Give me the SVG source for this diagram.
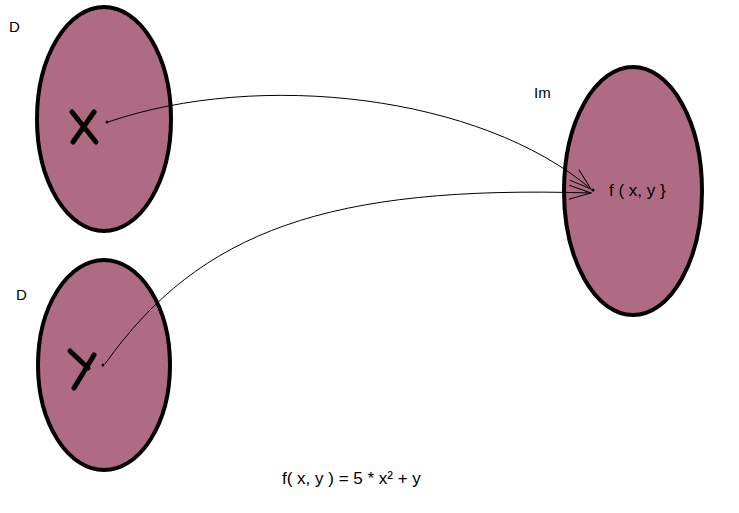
<svg xmlns="http://www.w3.org/2000/svg" width="739" height="513" viewBox="0 0 739 513">
<style>
.set{fill:#b06b84;stroke:#000;stroke-width:4}
.t{font-family:"Liberation Sans",Arial,sans-serif;font-size:15px;fill:#000}
.stroke{stroke:#000;stroke-width:5;stroke-linecap:round;fill:none}
.c{fill:none;stroke:#000;stroke-width:1}
</style>
<defs>
<marker id="ah" markerWidth="24" markerHeight="16" refX="22" refY="8" orient="auto" markerUnits="userSpaceOnUse">
<path d="M0,1 L22,8 L0,15" fill="none" stroke="#000" stroke-width="1"/>
</marker>
</defs>
<rect width="739" height="513" fill="#fff"/>
<g id="setD1">
<ellipse class="set" cx="104" cy="119" rx="67" ry="112"/>
<path class="stroke" d="M72,112 L96,142 M94,112 L73,142"/>
<circle cx="107" cy="122" r="1.5"/>
<text class="t" x="9" y="32">D</text>
</g>
<g id="setD2">
<ellipse class="set" cx="104" cy="365" rx="66" ry="105"/>
<path class="stroke" d="M70,351 L88,368 M94,355 L74,388"/>
<circle cx="103" cy="365" r="1.5"/>
<text class="t" x="16" y="300">D</text>
</g>
<g id="setIm">
<ellipse class="set" cx="633" cy="191" rx="69" ry="124"/>
<circle cx="593" cy="190" r="1.5"/>
<text class="t" x="609" y="196" style="font-size:17px">f ( x, y }</text>
<text class="t" x="534" y="98">Im</text>
</g>
<g id="connectors">
<path class="c" d="M108,122 C260,70 480,95 591,189" marker-end="url(#ah)"/>
<path class="c" d="M105,364 C200,230 330,185 591,193" marker-end="url(#ah)"/>
</g>
<text class="t" x="282" y="484" style="font-size:17px">f( x, y ) = 5 * x² + y</text>
</svg>
